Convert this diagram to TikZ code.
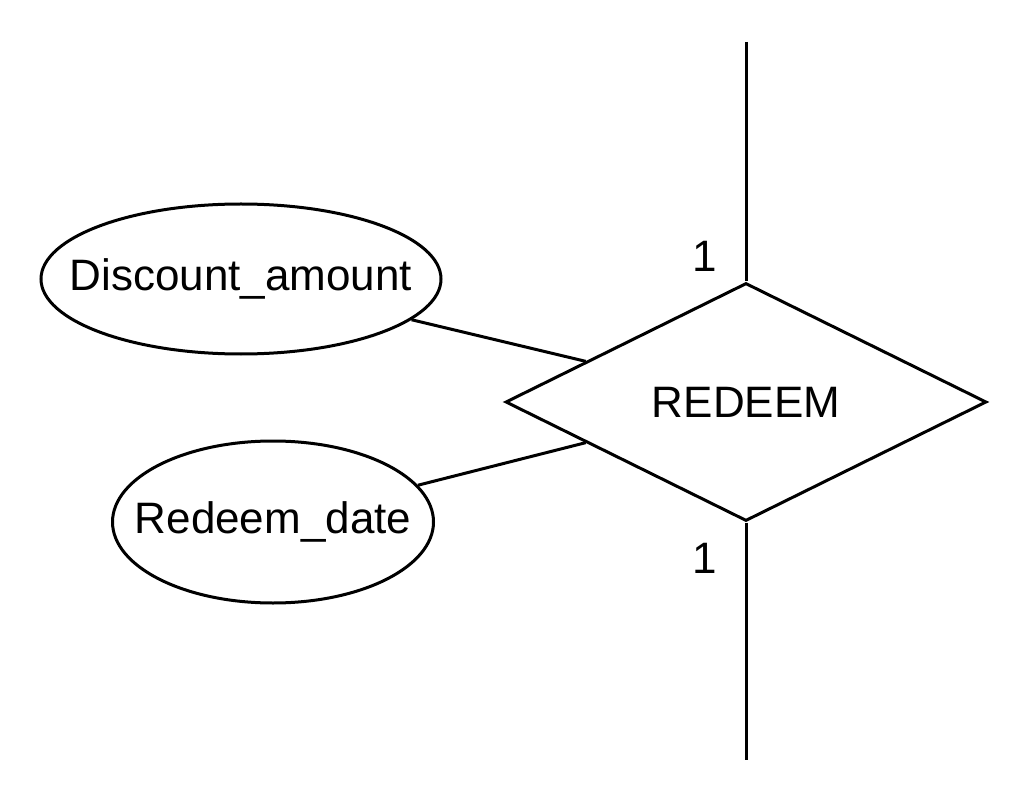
\documentclass[tikz,border=0pt]{standalone}
\usepackage{fontspec}
\setmainfont{Liberation Sans}
\usetikzlibrary{shapes.geometric,calc}
\begin{document}
\begin{tikzpicture}[x=0.5pt,y=-0.5pt,line width=1.5pt,
  lbl/.style={font=\fontsize{22}{26}\selectfont},
  attr/.style={ellipse,draw,inner sep=0pt,lbl},
  rel/.style={diamond,draw,inner sep=0pt,lbl,minimum width=240.5pt,minimum height=119pt}]
\useasboundingbox (0,0) rectangle (1032,812);
\node[rel] (rd) at (746,402) {\makebox[0pt]{REDEEM}};
\node[attr,minimum width=200pt,minimum height=75pt] (da) at (241,279) {\makebox[0pt]{Discount\_amount}};
\node[attr,minimum width=160.5pt,minimum height=81pt] (dt) at (273,522) {\makebox[0pt]{Redeem\_date}};
\coordinate (top) at (746,42);
\coordinate (bot) at (746,760);
\draw (top) -- (rd.north);
\draw (rd.south) -- (bot);
\node[lbl] (c1) at (705,256) {1};
\node[lbl] (c2) at (705,558) {1};
\draw (da) -- ($(rd.west)!0.3375!(rd.north)$);
\draw (dt) -- ($(rd.west)!0.3375!(rd.south)$);
\end{tikzpicture}
\end{document}
